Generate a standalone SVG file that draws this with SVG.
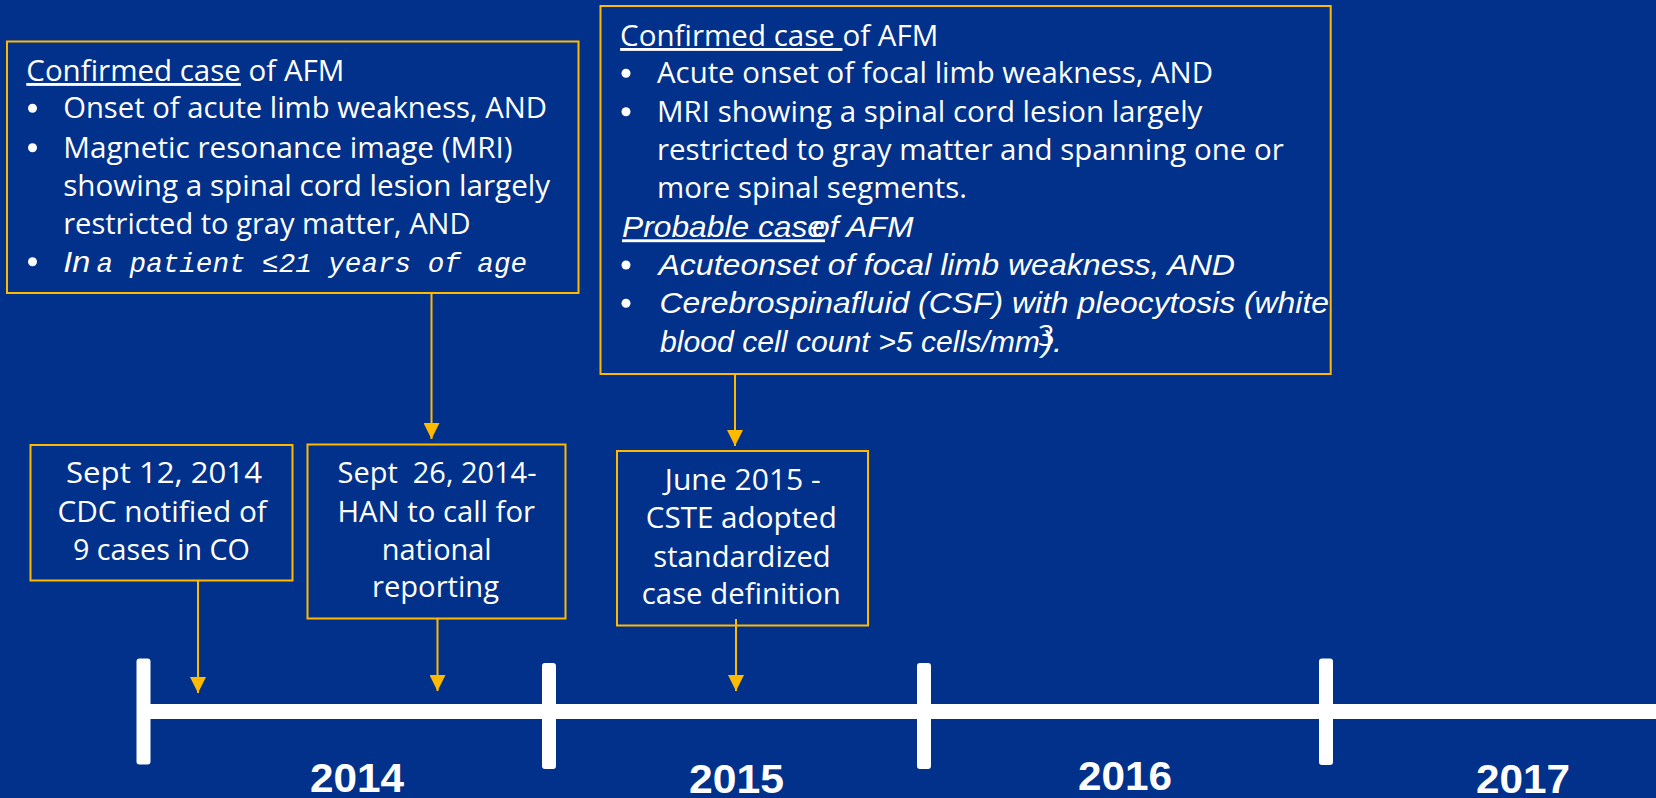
<svg xmlns="http://www.w3.org/2000/svg" width="1656" height="798" viewBox="0 0 1656 798">
<defs>
<style>
.box{fill:none;stroke:#FFBA00;stroke-width:2}
.t{font-family:"Open Sans","Liberation Sans",sans-serif;font-size:29px;fill:#fff}
.i{font-family:"Liberation Sans",Arial,sans-serif;font-style:italic;font-size:29px;fill:#fff}
.m{font-family:"Liberation Mono","DejaVu Sans Mono",monospace;font-style:italic;font-size:28px;fill:#fff}
.yr{font-family:"Liberation Sans",Arial,sans-serif;font-weight:bold;font-size:40px;fill:#fff}
.b{fill:#fff}
.con{stroke:#FFBA00;stroke-width:2;fill:none}
.tick{fill:#fff}
</style>
<marker id="ah" markerUnits="userSpaceOnUse" markerWidth="16" markerHeight="16" refX="16" refY="8" orient="auto" viewBox="0 0 16 16">
<path d="M0,0 L16,8 L0,16 z" fill="#FFBA00"/>
</marker>
</defs>
<rect width="1656" height="798" fill="#01318A"/>

<g id="timeline">
<rect x="143" y="704" width="1513" height="15" fill="#fff"/>
<rect class="tick" x="136.5" y="658.5" width="14" height="106" rx="3"/>
<rect class="tick" x="542" y="663" width="14" height="106" rx="3"/>
<rect class="tick" x="917" y="663" width="14" height="106" rx="3"/>
<rect class="tick" x="1319" y="658.5" width="14" height="106.5" rx="3"/>
<text class="yr" x="310" y="792" textLength="94" lengthAdjust="spacingAndGlyphs">2014</text>
<text class="yr" x="689" y="793" textLength="95" lengthAdjust="spacingAndGlyphs">2015</text>
<text class="yr" x="1078" y="790" textLength="94" lengthAdjust="spacingAndGlyphs">2016</text>
<text class="yr" x="1476" y="793" textLength="94" lengthAdjust="spacingAndGlyphs">2017</text>
</g>

<g id="connectors">
<line class="con" x1="198" y1="581" x2="198" y2="693" marker-end="url(#ah)"/>
<line class="con" x1="437.5" y1="618" x2="437.5" y2="691" marker-end="url(#ah)"/>
<line class="con" x1="736" y1="619" x2="736" y2="691" marker-end="url(#ah)"/>
<line class="con" x1="431.5" y1="293" x2="431.5" y2="439" marker-end="url(#ah)"/>
<line class="con" x1="735" y1="374" x2="735" y2="446" marker-end="url(#ah)"/>
</g>

<g id="box-confirmed-2014">
<rect class="box" x="7" y="41.5" width="571.5" height="251.5"/>
<text class="t" x="26.3" y="81" textLength="318" lengthAdjust="spacingAndGlyphs"><tspan text-decoration="underline">Confirmed case</tspan> of AFM</text>
<circle class="b" cx="32.5" cy="108.3" r="4.5"/>
<text class="t" x="63.2" y="118.3" textLength="483.7" lengthAdjust="spacingAndGlyphs">Onset of acute limb weakness, AND</text>
<circle class="b" cx="32.5" cy="147.7" r="4.5"/>
<text class="t" x="63.2" y="157.7" textLength="449.4" lengthAdjust="spacingAndGlyphs">Magnetic resonance image (MRI)</text>
<text class="t" x="63.2" y="195.7" textLength="487" lengthAdjust="spacingAndGlyphs">showing a spinal cord lesion largely</text>
<text class="t" x="63.2" y="234" textLength="407.3" lengthAdjust="spacingAndGlyphs">restricted to gray matter, AND</text>
<circle class="b" cx="32.5" cy="261.7" r="4.5"/>
<text class="i" x="63.2" y="271.7" textLength="27" lengthAdjust="spacingAndGlyphs">In</text>
<text class="m" x="96.5" y="271.7" textLength="430.5" lengthAdjust="spacingAndGlyphs">a patient ≤21 years of age</text>
</g>

<g id="box-definition-2015">
<rect class="box" x="600.5" y="6" width="730.2" height="368"/>
<text class="t" x="620.1" y="46" textLength="318.2" lengthAdjust="spacingAndGlyphs" style="white-space:pre"><tspan text-decoration="underline">Confirmed case </tspan>of AFM</text>
<circle class="b" cx="626" cy="73.3" r="4.5"/>
<text class="t" x="657" y="83.3" textLength="556" lengthAdjust="spacingAndGlyphs">Acute onset of focal limb weakness, AND</text>
<circle class="b" cx="626" cy="111.7" r="4.5"/>
<text class="t" x="657" y="121.7" textLength="545.4" lengthAdjust="spacingAndGlyphs">MRI showing a spinal cord lesion largely</text>
<text class="t" x="657" y="160" textLength="626.8" lengthAdjust="spacingAndGlyphs">restricted to gray matter and spanning one or</text>
<text class="t" x="657" y="198.3" textLength="310" lengthAdjust="spacingAndGlyphs">more spinal segments.</text>
<text class="i" x="622" y="237.3" textLength="203" lengthAdjust="spacingAndGlyphs" text-decoration="underline">Probable case</text>
<text class="i" x="812" y="237.3" textLength="101.4" lengthAdjust="spacingAndGlyphs">of AFM</text>
<circle class="b" cx="626" cy="265" r="4.5"/>
<text class="i" x="658.4" y="275" textLength="576.6" lengthAdjust="spacingAndGlyphs">Acuteonset of focal limb weakness, AND</text>
<circle class="b" cx="626" cy="303.3" r="4.5"/>
<text class="i" x="659.4" y="313.3" textLength="669.6" lengthAdjust="spacingAndGlyphs">Cerebrospinafluid (CSF) with pleocytosis (white</text>
<text class="i" x="660" y="351.7" textLength="380" lengthAdjust="spacingAndGlyphs">blood cell count &gt;5 cells/mm</text>
<text class="t" x="1038" y="346" font-size="14">3</text>
<text class="i" x="1042" y="351.7" textLength="20" lengthAdjust="spacingAndGlyphs">).</text>
</g>

<g id="box-sept12">
<rect class="box" x="30.5" y="445" width="262" height="135.5"/>
<text class="t" x="66" y="483.3" textLength="196" lengthAdjust="spacingAndGlyphs">Sept 12, 2014</text>
<text class="t" x="57.4" y="521.7" textLength="209.5" lengthAdjust="spacingAndGlyphs">CDC notified of</text>
<text class="t" x="72.9" y="560" textLength="177" lengthAdjust="spacingAndGlyphs">9 cases in CO</text>
</g>

<g id="box-sept26">
<rect class="box" x="307.5" y="444.5" width="258" height="174"/>
<text class="t" x="337.5" y="483.3" textLength="199" lengthAdjust="spacingAndGlyphs" style="white-space:pre">Sept  26, 2014-</text>
<text class="t" x="337.5" y="521.7" textLength="197.5" lengthAdjust="spacingAndGlyphs">HAN to call for</text>
<text class="t" x="381.7" y="560" textLength="110" lengthAdjust="spacingAndGlyphs">national</text>
<text class="t" x="372" y="597" textLength="127" lengthAdjust="spacingAndGlyphs">reporting</text>
</g>

<g id="box-june2015">
<rect class="box" x="617" y="451" width="251" height="174.5"/>
<text class="t" x="664.8" y="490" textLength="156" lengthAdjust="spacingAndGlyphs">June 2015 -</text>
<text class="t" x="645.8" y="528.3" textLength="191" lengthAdjust="spacingAndGlyphs">CSTE adopted</text>
<text class="t" x="653.3" y="566.7" textLength="177.4" lengthAdjust="spacingAndGlyphs">standardized</text>
<text class="t" x="641.8" y="604.3" textLength="199" lengthAdjust="spacingAndGlyphs">case definition</text>
</g>
</svg>
